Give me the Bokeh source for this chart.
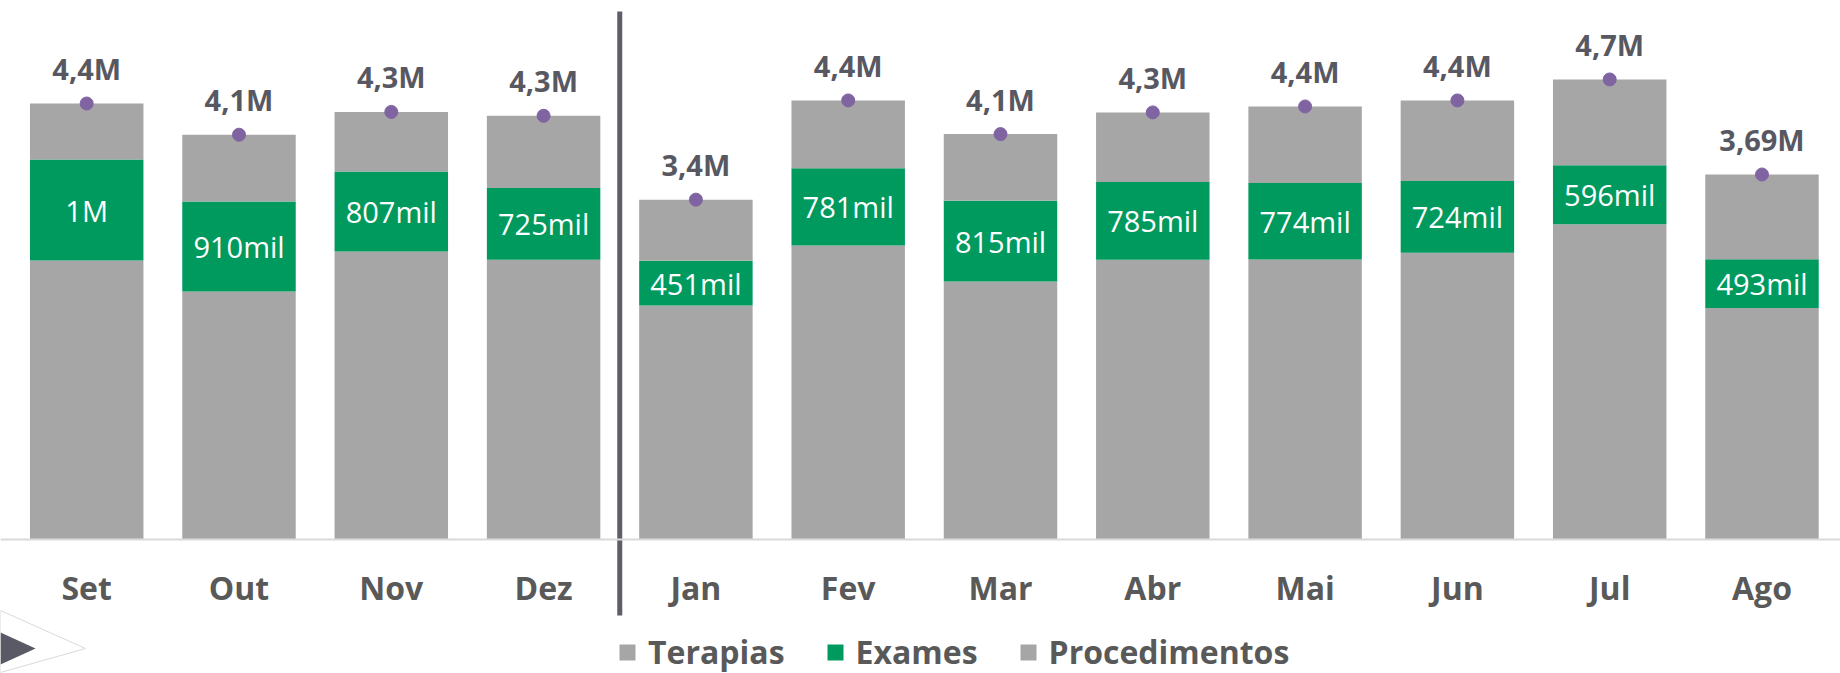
from bokeh.plotting import figure
from bokeh.models import ColumnDataSource, Range1d, FixedTicker, Legend, LegendItem, LinearAxis
from bokeh.core.properties import value
from bokeh.embed import file_html
from bokeh.resources import INLINE

# ---------------- data (thousands) ----------------
months = ["Set", "Out", "Nov", "Dez", "Jan", "Fev", "Mar", "Abr", "Mai", "Jun", "Jul", "Ago"]
terapias = [2818, 2505, 2909, 2825, 2364, 2970, 2606, 2825, 2828, 2896, 3185, 2338]
exames = [1020, 910, 807, 725, 451, 781, 815, 785, 774, 724, 596, 493]
procedimentos = [566, 674, 603, 730, 618, 684, 674, 704, 772, 815, 866, 856]
total_labels = ["4,4M", "4,1M", "4,3M", "4,3M", "3,4M", "4,4M", "4,1M", "4,3M",
                "4,4M", "4,4M", "4,7M", "3,69M"]
exames_labels = ["1M", "910mil", "807mil", "725mil", "451mil", "781mil", "815mil",
                 "785mil", "774mil", "724mil", "596mil", "493mil"]
series_names = ["Terapias", "Exames", "Procedimentos"]
year_break_after = "Dez"

# ---------------- styling / layout ----------------
GREY = "#A6A6A6"
GREEN = "#009A5E"
PURPLE = "#8064A2"
TEXT = "#595959"
TOTAL_TEXT = "#585862"
SEP = "#5E5E6A"

W, H = 1840, 673
CAT_PX = 152.3          # pixels per category
FIRST_CENTER_PX = 86.2  # first bar centre from frame left
PX_PER_K = 0.099        # pixels per thousand
BASELINE_PX = 539       # zero line from frame top

x_start = -FIRST_CENTER_PX / CAT_PX
x_end = x_start + W / CAT_PX
y_end = BASELINE_PX / PX_PER_K
y_start = -(H - BASELINE_PX) / PX_PER_K


def fx(px):
    return x_start + px / CAT_PX


def fy(px):
    return (BASELINE_PX - px) / PX_PER_K


xs = list(range(len(months)))
totals = [a + b + c for a, b, c in zip(terapias, exames, procedimentos)]
ex_mid = [a + b / 2 for a, b in zip(terapias, exames)]

src = ColumnDataSource(dict(
    x=xs, month=months, terapias=terapias, exames=exames, procedimentos=procedimentos,
    total=totals, total_label=total_labels, ex_mid=ex_mid, ex_label=exames_labels,
))

p = figure(width=W, height=H, output_backend="svg", toolbar_location=None,
           x_range=Range1d(x_start, x_end), y_range=Range1d(y_start, y_end),
           x_axis_location=None, y_axis_location=None,
           min_border=0, min_border_left=0, min_border_right=0,
           min_border_top=0, min_border_bottom=0)
p.outline_line_color = None
p.xgrid.visible = False
p.ygrid.visible = False
p.background_fill_color = "white"

# decorative arrow (bottom-left)
p.patch(x=[fx(0), fx(85), fx(0)], y=[fy(610), fy(648), fy(672)],
        fill_color=None, line_color="#DADADA", line_width=1)
p.patch(x=[fx(0), fx(35), fx(0)], y=[fy(632), fy(648), fy(664)],
        fill_color="#5A5A66", line_color=None)

bars = p.vbar_stack(["terapias", "exames", "procedimentos"], x="x", width=0.745,
                    color=[GREY, GREEN, GREY], line_color=None, source=src)

# separator between years
sep_x = months.index(year_break_after) + 0.5
p.segment(x0=[sep_x], y0=[fy(11)], x1=[sep_x], y1=[fy(615)], line_color=SEP, line_width=5)

p.scatter(x="x", y="total", size=13, color=PURPLE, source=src)

p.text(x="x", y="total", text="total_label", source=src, text_align="center",
       text_baseline="middle", y_offset=-35, text_font=value("Open Sans"),
       text_font_style="bold", text_font_size="29px", text_color=TOTAL_TEXT)

p.text(x="x", y="ex_mid", text="ex_label", source=src, text_align="center",
       text_baseline="middle", text_font=value("Open Sans"),
       text_font_size="29px", text_color="white")

xaxis = LinearAxis(fixed_location=0, ticker=FixedTicker(ticks=xs),
                   major_label_overrides={i: m for i, m in enumerate(months)})
xaxis.axis_line_color = "#D9D9D9"
xaxis.axis_line_width = 2
xaxis.major_tick_line_color = None
xaxis.minor_tick_line_color = None
xaxis.major_tick_out = 0
xaxis.major_tick_in = 0
xaxis.major_label_standoff = 26
xaxis.major_label_text_font = "Open Sans"
xaxis.major_label_text_font_style = "bold"
xaxis.major_label_text_font_size = "32px"
xaxis.major_label_text_color = TEXT
p.add_layout(xaxis, "below")

legend = Legend(items=[LegendItem(label=n, renderers=[r]) for n, r in zip(series_names, bars)],
                orientation="horizontal", location=(617, 0))
legend.glyph_width = 20
legend.glyph_height = 20
legend.label_standoff = 11
legend.spacing = 40
legend.padding = 0
legend.margin = 0
legend.border_line_color = None
legend.background_fill_alpha = 0
legend.label_text_font = "Open Sans"
legend.label_text_font_style = "bold"
legend.label_text_font_size = "32px"
legend.label_text_color = TEXT
p.add_layout(legend)

open("out.html", "w").write(file_html(p, INLINE))
